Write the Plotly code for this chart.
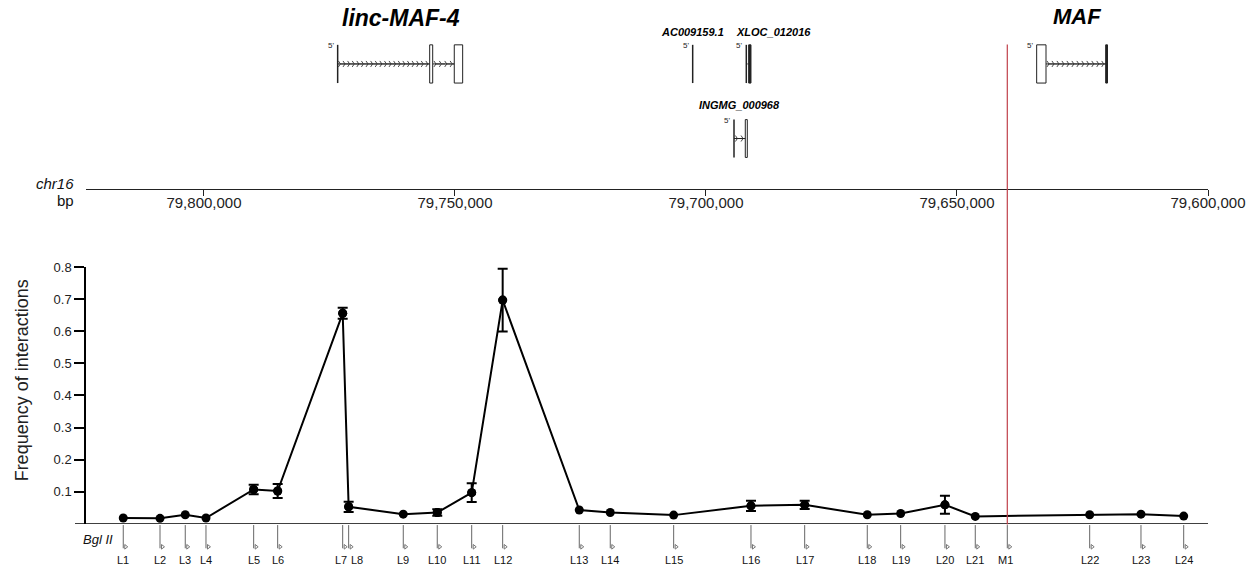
import plotly.graph_objects as go

# ---------------- data ----------------
# Bgl II restriction sites / fragment anchors on chr16 (bp)
site_names = ["L1", "L2", "L3", "L4", "L5", "L6", "L7", "L8", "L9", "L10", "L11", "L12",
              "L13", "L14", "L15", "L16", "L17", "L18", "L19", "L20", "L21", "M1",
              "L22", "L23", "L24"]
site_pos = [79816080, 79808760, 79803730, 79799600, 79790100, 79785320, 79772370, 79771180,
            79760300, 79753530, 79746670, 79740500, 79725240, 79719070, 79706440, 79691040,
            79680340, 79667870, 79661220, 79652400, 79646360, 79639980, 79623570, 79613350,
            79604840]
# frequency of interactions (M1 = viewpoint, no value)
freq = [0.018, 0.017, 0.028, 0.018, 0.107, 0.102, 0.656, 0.053, 0.030, 0.035, 0.097, 0.697,
        0.043, 0.035, 0.027, 0.056, 0.059, 0.028, 0.032, 0.059, 0.023, None,
        0.028, 0.030, 0.024]
freq_err = [None, None, None, None, 0.015, 0.022, 0.017, 0.016, None, 0.010, 0.029, 0.098,
            None, None, None, 0.016, 0.013, None, None, 0.028, None, None,
            None, None, None]

y_tickvals = [0.1, 0.2, 0.3, 0.4, 0.5, 0.6, 0.7, 0.8]
y_ticktext = ["0.1", "0.2", "0.3", "0.4", "0.5", "0.6", "0.7", "0.8"]
genome_tickvals = [79800000, 79750000, 79700000, 79650000, 79600000]
genome_ticktext = ["79,800,000", "79,750,000", "79,700,000", "79,650,000", "79,600,000"]
genome_range = [79823500, 79600000]
viewpoint = "M1"

# gene models (exons as start/end, bp)
gene_names = ["linc-MAF-4", "AC009159.1", "XLOC_012016", "INGMG_000968", "MAF"]
gene_exons = [
    [(79773370, 79773370), (79755040, 79754440), (79750140, 79748470)],
    [(79702650, 79702650)],
    [(79691970, 79691770), (79691500, 79691040)],
    [(79694420, 79694420), (79692170, 79691770)],
    [(79634130, 79632270), (79620380, 79620020)],
]
gene_exon_fill = [
    ["white", "white", "white"],
    ["white"],
    ["white", "#222222"],
    ["white", "white"],
    ["white", "#222222"],
]

# ---------------- styling / layout helpers ----------------
FONT = "Liberation Sans, Arial, Helvetica, sans-serif"
W, H = 1255, 571
L_M, R_M = 86, 47
PW = W - L_M - R_M
BP_PER_PX = (genome_range[0] - genome_range[1]) / PW

def xp(px):
    return (px - L_M) / PW

def yp(py):
    return 1 - py / H

gene_row_top = [38.3, 38.3, 38.3, 114.0, 38.3]
gene_row_bot = [77.0, 77.0, 77.0, 152.3, 77.0]
gene_label_size = [23, 11, 11, 11, 22]
gene_label_y = [11, 25, 25, 99, 10]
gene_label_xshift = [1, 0, 25, -1, 5]
CHEVRON_PX = 4.6

fig = go.Figure()

# error bars (only points that have them)
err_idx = [i for i, e in enumerate(freq_err) if e is not None]
fig.add_trace(go.Scatter(
    x=[site_pos[i] for i in err_idx], y=[freq[i] for i in err_idx],
    mode="markers", marker=dict(size=9, color="black"),
    error_y=dict(type="data", array=[freq_err[i] for i in err_idx],
                 thickness=2, width=5, color="black"),
    xaxis="x", yaxis="y", showlegend=False, hoverinfo="skip"))

# main profile
fig.add_trace(go.Scatter(
    x=site_pos, y=freq, mode="lines+markers", connectgaps=True,
    line=dict(color="black", width=2), marker=dict(size=9, color="black"),
    xaxis="x", yaxis="y", showlegend=False, text=site_names))

# Bgl II flags (small open triangles to the right of each site tick)
fig.add_trace(go.Scatter(
    x=[p - 2.5 * BP_PER_PX for p in site_pos], y=[546.5] * len(site_pos),
    mode="markers", marker=dict(symbol="triangle-right-open", size=4,
                                color="#777777", line=dict(width=1, color="#777777")),
    xaxis="x2", yaxis="y2", showlegend=False, hoverinfo="skip"))

shapes = []
annotations = []

# bottom horizontal axis line
shapes.append(dict(type="line", xref="paper", yref="y", x0=xp(75), x1=1.0, y0=0, y1=0,
                   line=dict(color="black", width=1.5)))
# site ticks and labels
for name, p in zip(site_names, site_pos):
    shapes.append(dict(type="line", xref="x2", yref="y2", x0=p, x1=p, y0=524.5, y1=548,
                       line=dict(color="#666666", width=1)))
    xs = 0
    if name == "L7":
        xs = -2
    elif name == "L8":
        xs = 8
    elif name == "M1":
        xs = -2
    annotations.append(dict(x=p, y=560, xref="x2", yref="y2", text=name, showarrow=False,
                            xshift=xs, yanchor="middle",
                            font=dict(size=11, color="#111111", family=FONT)))

# viewpoint red line
vp = site_pos[site_names.index(viewpoint)]
shapes.append(dict(type="line", xref="x2", yref="y2", x0=vp, x1=vp, y0=38, y1=524,
                   line=dict(color="#c0404a", width=1.2)))

# gene models
chev_x, chev_y = [], []
for g, name in enumerate(gene_names):
    top, bot = gene_row_top[g], gene_row_bot[g]
    mid = (top + bot) / 2
    exons = gene_exons[g]
    # introns with chevrons
    for k in range(len(exons) - 1):
        a = exons[k][1]
        b = exons[k + 1][0]
        shapes.append(dict(type="line", xref="x2", yref="y2", x0=a, x1=b, y0=mid, y1=mid,
                           line=dict(color="#222222", width=1)))
        lpx = abs(a - b) / BP_PER_PX
        n = int(lpx / CHEVRON_PX)
        if n > 0:
            step = (b - a) / n
            for j in range(n):
                chev_x.append(a + step * (j + 0.6))
                chev_y.append(mid)
    # exons
    for k, (s, e) in enumerate(exons):
        wpx = abs(s - e) / BP_PER_PX
        if wpx < 1.2:
            shapes.append(dict(type="line", xref="x2", yref="y2", x0=s, x1=s, y0=top, y1=bot,
                               line=dict(color="#222222", width=1.5)))
        else:
            shapes.append(dict(type="rect", xref="x2", yref="y2", x0=s, x1=e, y0=top, y1=bot,
                               fillcolor=gene_exon_fill[g][k],
                               line=dict(color="#222222", width=1)))
    # 5' marker
    annotations.append(dict(x=exons[0][0], y=top + 1, xref="x2", yref="y2", text="5'",
                            showarrow=False, xanchor="right", yanchor="middle", xshift=-2,
                            font=dict(size=8, color="#222222", family=FONT)))
    # gene name
    gstart = exons[0][0]
    gend = exons[-1][1]
    annotations.append(dict(x=(gstart + gend) / 2, y=gene_label_y[g], xref="x2", yref="y2",
                            text="<b><i>" + name + "</i></b>", showarrow=False,
                            xshift=gene_label_xshift[g], yanchor="middle",
                            font=dict(size=gene_label_size[g], color="black", family=FONT)))

# transcription-direction chevrons
fig.add_trace(go.Scatter(
    x=chev_x, y=chev_y, mode="markers",
    marker=dict(symbol="y-right", size=5, color="#333333",
                line=dict(width=0.9, color="#333333")),
    xaxis="x2", yaxis="y2", showlegend=False, hoverinfo="skip"))

# text labels
annotations.append(dict(x=xp(76), y=yp(179), xref="paper", yref="paper", text="<i>chr16</i>",
                        showarrow=False, xanchor="right", yanchor="middle",
                        font=dict(size=15, color="#111111", family=FONT)))
annotations.append(dict(x=xp(76), y=yp(196), xref="paper", yref="paper", text="bp",
                        showarrow=False, xanchor="right", yanchor="middle",
                        font=dict(size=15, color="#111111", family=FONT)))
annotations.append(dict(x=xp(115), y=yp(539), xref="paper", yref="paper", text="<i>Bgl II</i>",
                        showarrow=False, xanchor="right", yanchor="middle",
                        font=dict(size=13, color="#111111", family=FONT)))
annotations.append(dict(x=xp(22), y=yp(378), xref="paper", yref="paper",
                        text="Frequency of interactions", textangle=-90, showarrow=False,
                        xanchor="center", yanchor="middle",
                        font=dict(size=18, color="#222222", family=FONT)))

fig.update_layout(
    width=W, height=H,
    margin=dict(l=L_M, r=R_M, t=0, b=0),
    paper_bgcolor="white", plot_bgcolor="rgba(0,0,0,0)",
    font=dict(family=FONT, color="black"),
    showlegend=False,
    xaxis=dict(range=genome_range, domain=[0, 1], anchor="y", showline=False,
               showgrid=False, zeroline=False, ticks="", showticklabels=False),
    yaxis=dict(range=[0, 0.8], domain=[yp(523.2), yp(263.3)], anchor="x",
               showline=True, linecolor="black", linewidth=1.5, showgrid=False,
               zeroline=False, ticks="outside", ticklen=10, tickwidth=1.5,
               tickcolor="black", tickvals=y_tickvals, ticktext=y_ticktext,
               tickfont=dict(size=13, color="#222222", family=FONT)),
    xaxis2=dict(range=genome_range, domain=[0, 1], anchor="free", position=yp(184),
                showline=True, linecolor="#222222", linewidth=1, showgrid=False,
                zeroline=False, ticks="outside", ticklen=6, tickwidth=1,
                tickcolor="#222222", tickvals=genome_tickvals, ticktext=genome_ticktext,
                ticklabelstandoff=-6,
                tickfont=dict(size=15, color="#222222", family=FONT)),
    yaxis2=dict(range=[H, 0], domain=[0, 1], anchor="x2", visible=False, showgrid=False,
                zeroline=False),
    shapes=shapes,
    annotations=annotations,
)

fig.write_html("out.html")
